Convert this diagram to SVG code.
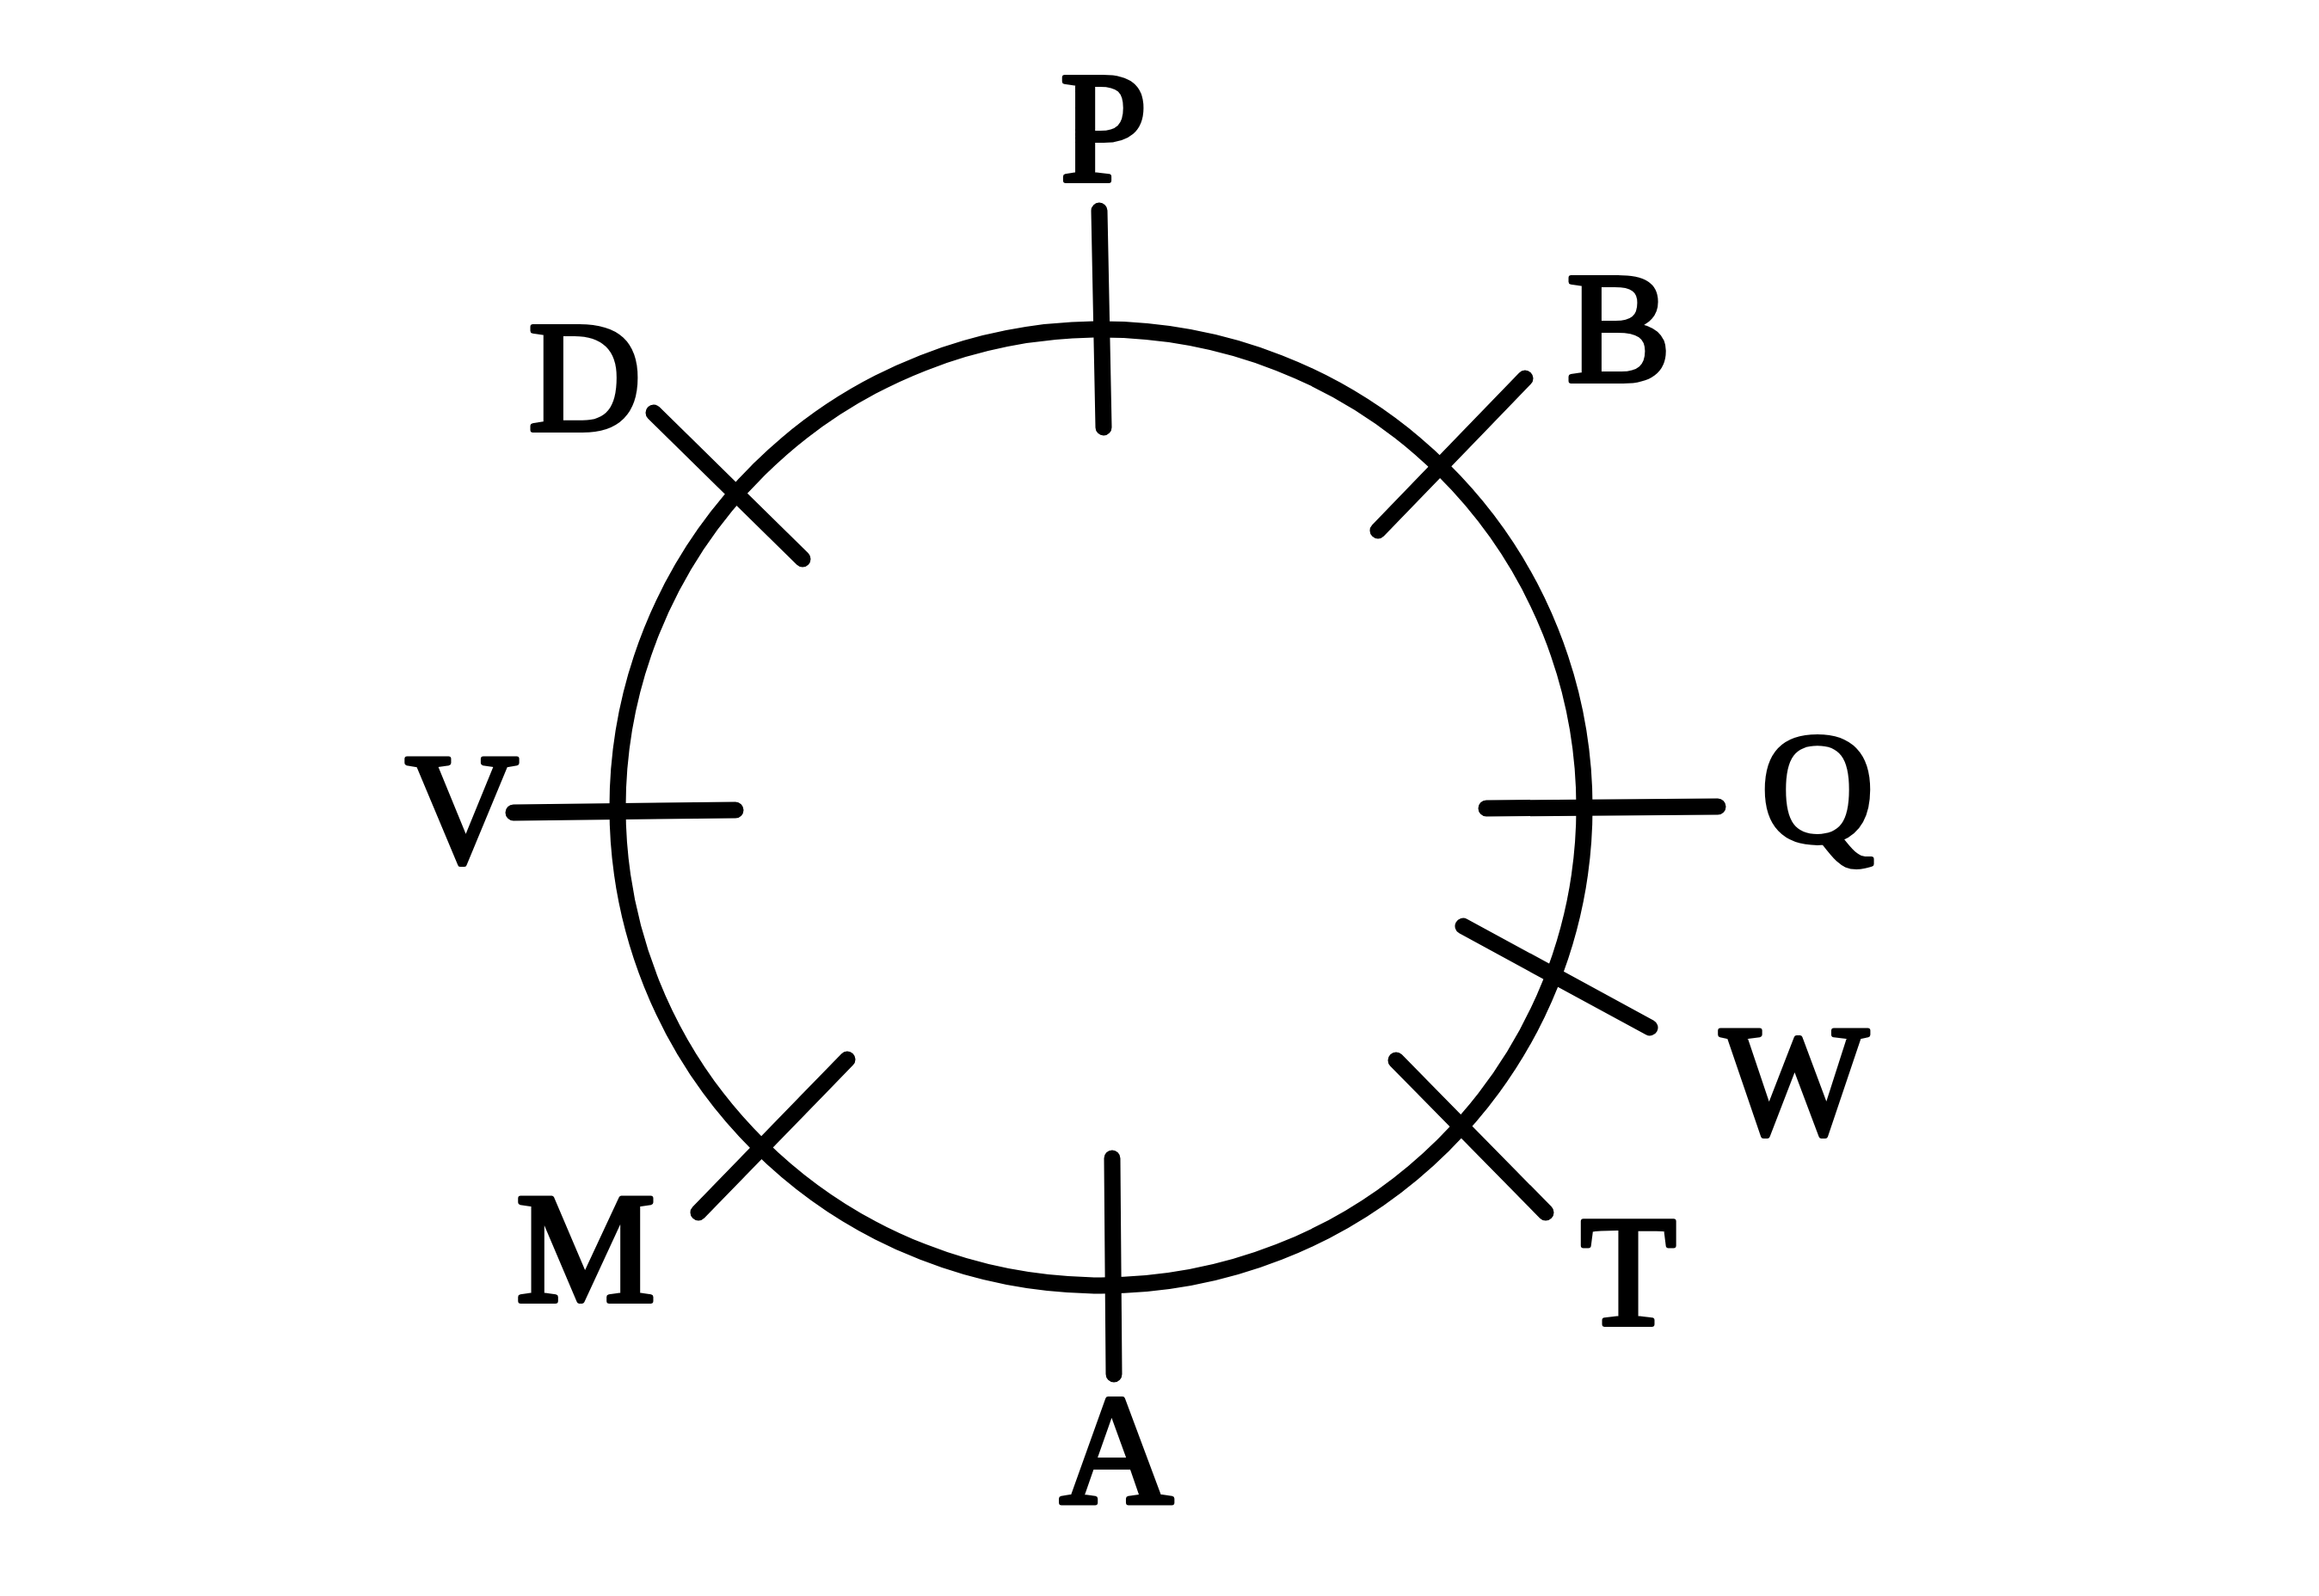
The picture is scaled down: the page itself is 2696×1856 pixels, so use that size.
<svg xmlns="http://www.w3.org/2000/svg" width="2696" height="1856" viewBox="0 0 2696 1856">
<style>
.ln{stroke:#000;stroke-width:19;stroke-linecap:round;fill:none}
.lb{font-family:'Liberation Serif','Times New Roman',serif;font-size:182px;fill:#000;stroke:#000;stroke-width:6;stroke-linejoin:round;text-anchor:middle}
</style>
<rect x="0" y="0" width="2696" height="1856" fill="#fff"/>
<g id="connectors">
<ellipse class="ln" cx="1280" cy="939" rx="562" ry="556"/>
</g>
<g id="P"><line class="ln" x1="1278" y1="245" x2="1283" y2="497"/><text class="lb" x="1283" y="210">P</text></g>
<g id="B"><line class="ln" x1="1773" y1="440" x2="1602" y2="617"/><text class="lb" x="1882" y="443">B</text></g>
<g id="Q"><line class="ln" x1="1728" y1="940" x2="1997" y2="938"/><text class="lb" x="2113" y="978">Q</text></g>
<g id="W"><line class="ln" x1="1701" y1="1077" x2="1918" y2="1195"/><text class="lb" x="2086" y="1318">W</text></g>
<g id="T"><line class="ln" x1="1623" y1="1233" x2="1797" y2="1410"/><text class="lb" x="1893" y="1540">T</text></g>
<g id="A"><line class="ln" x1="1293" y1="1347" x2="1295" y2="1598"/><text class="lb" x="1298" y="1748">A</text></g>
<g id="M"><line class="ln" x1="985" y1="1232" x2="812" y2="1410"/><text class="lb" x="681" y="1513">M</text></g>
<g id="V"><line class="ln" x1="597" y1="945" x2="855" y2="942"/><text class="lb" x="537" y="1002">V</text></g>
<g id="D"><line class="ln" x1="760" y1="480" x2="933" y2="650"/><text class="lb" x="680" y="500">D</text></g>
</svg>
